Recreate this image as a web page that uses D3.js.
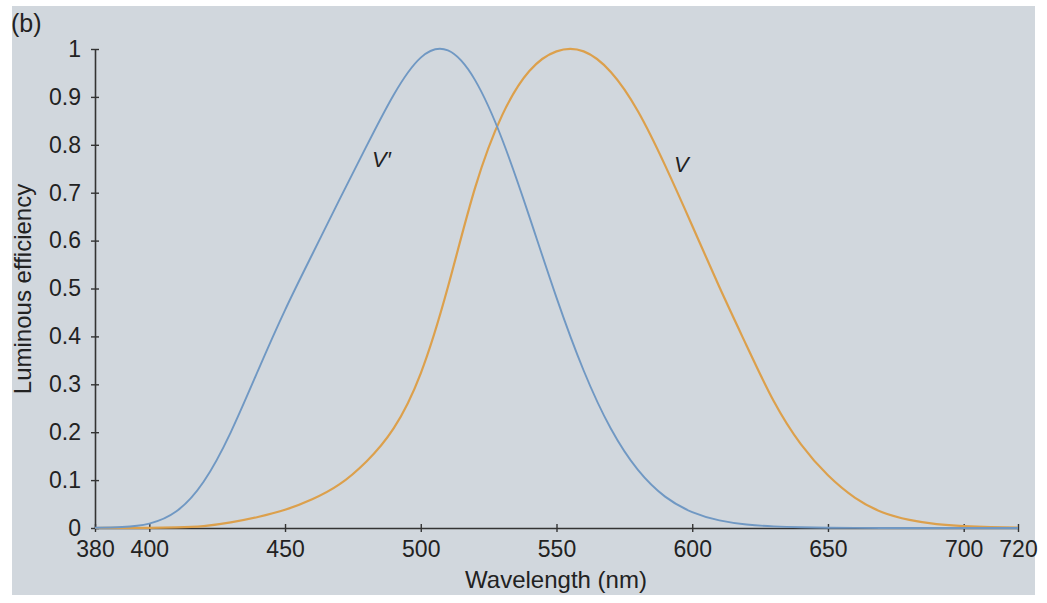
<!DOCTYPE html>
<html><head><meta charset="utf-8">
<script src="https://cdn.jsdelivr.net/npm/d3@7"></script>
<style>body{margin:0;background:#fff}svg{display:block}text{font-family:"Liberation Sans",Arial,sans-serif}</style>
</head><body>
<svg id="c" width="1047" height="603"></svg>
<script>
const scotopicWavelengths = [380,390,400,410,420,430,440,450,460,470,480,490,500,510,520,530,540,550,560,570,580,590,600,610,620,630,640,650,660,670,680,690,700,710,720];
const scotopicV = [0.000589,0.002209,0.00929,0.03484,0.0966,0.1998,0.3281,0.455,0.571,0.685,0.797,0.904,0.982,0.997,0.935,0.811,0.65,0.481,0.3288,0.2076,0.1212,0.0655,0.03315,0.01593,0.00737,0.003335,0.001497,0.000677,0.000313,0.000148,0.0000715,0.0000353,0.0000178,0.0000091,0.0000048];
const photopicWavelengths = [380,390,400,410,420,430,440,450,460,470,480,490,500,510,520,530,540,550,560,570,580,590,600,610,620,630,640,650,660,670,680,690,700,710,720];
const photopicV = [0.000039,0.00012,0.000396,0.00121,0.004,0.0116,0.023,0.038,0.06,0.091,0.139,0.208,0.323,0.503,0.71,0.862,0.954,0.995,0.995,0.952,0.87,0.757,0.631,0.503,0.381,0.265,0.175,0.11,0.063,0.033,0.017,0.0082,0.0041,0.0021,0.00105];
const xTicks = [380,400,450,500,550,600,650,700,720];
const yTicks = [0,0.1,0.2,0.3,0.4,0.5,0.6,0.7,0.8,0.9,1];
const yTickLabels = ["0","0.1","0.2","0.3","0.4","0.5","0.6","0.7","0.8","0.9","1"];

const svg = d3.select("#c");
svg.append("rect").attr("x",12).attr("y",6).attr("width",1023).attr("height",589).attr("fill","#d1d7dd");

const x = d3.scaleLinear().domain([380,720]).range([95,1018]);
const y = d3.scaleLinear().domain([0,1]).range([528,49]);

const xAxis = svg.append("g").attr("transform","translate(0,528)")
  .call(d3.axisBottom(x).tickValues(xTicks).tickFormat(d3.format("d")).tickSizeInner(4).tickSizeOuter(0).tickPadding(9));
xAxis.selectAll(".tick line").attr("y1",-4);
const yAxis = svg.append("g").attr("transform","translate(95,0)")
  .call(d3.axisLeft(y).tickValues(yTicks).tickFormat((d,i)=>yTickLabels[i]).tickSizeInner(4).tickSizeOuter(0).tickPadding(10));
yAxis.selectAll(".tick line").attr("x1",4);
[xAxis,yAxis].forEach(g=>{
  g.select(".domain").attr("stroke","#333").attr("stroke-width",1.6);
  g.selectAll(".tick line").attr("stroke","#333").attr("stroke-width",1.4);
  g.selectAll(".tick text").attr("fill","#222").style("font-size","23px");
});

const line = d3.line().curve(d3.curveNatural);
svg.append("path").attr("fill","none").attr("stroke","#dca04c").attr("stroke-width",2.2)
  .attr("d", line(photopicWavelengths.map((w,i)=>[x(w),y(photopicV[i])])));
svg.append("path").attr("fill","none").attr("stroke","#7098c3").attr("stroke-width",1.9)
  .attr("d", line(scotopicWavelengths.map((w,i)=>[x(w),y(scotopicV[i])])));

svg.append("text").attr("x",372).attr("y",167).attr("font-style","italic").attr("font-size",22).attr("fill","#222").text("V′");
svg.append("text").attr("x",674).attr("y",172).attr("font-style","italic").attr("font-size",22).attr("fill","#222").text("V");
svg.append("text").attr("x",556).attr("y",588).attr("text-anchor","middle").attr("font-size",24).attr("fill","#222").text("Wavelength (nm)");
svg.append("text").attr("transform","translate(31,289) rotate(-90)").attr("text-anchor","middle").attr("font-size",24).attr("fill","#222").text("Luminous efficiency");
svg.append("text").attr("x",11).attr("y",32).attr("font-size",25).attr("fill","#222").text("(b)");
</script>
</body></html>
